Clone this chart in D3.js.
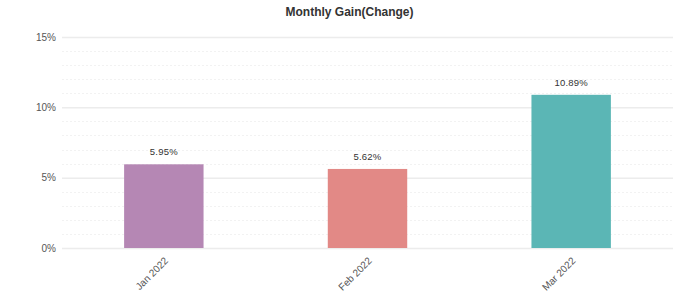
<!DOCTYPE html>
<html>
<head>
<meta charset="utf-8">
<script src="https://cdn.jsdelivr.net/npm/d3@7"></script>
<style>
  body { margin: 0; background: #fff; }
  svg text { font-family: Arial, "Liberation Sans", sans-serif; }
</style>
</head>
<body>
<script>
// chart data
var months = ["Jan 2022", "Feb 2022", "Mar 2022"];
var gains = [5.95, 5.62, 10.89];
var barColors = ["#b587b4", "#e28986", "#5bb6b5"];
var majorTicks = [0, 5, 10, 15];
var minorTicks = [1, 2, 3, 4, 6, 7, 8, 9, 11, 12, 13, 14];

var width = 699, height = 306;
var margin = { top: 37, right: 26, bottom: 58, left: 62 };
var innerW = width - margin.left - margin.right,
    innerH = height - margin.top - margin.bottom;

var svg = d3.select("body").append("svg")
    .attr("width", width)
    .attr("height", height);

svg.append("text")
    .attr("x", width / 2)
    .attr("y", 16)
    .attr("text-anchor", "middle")
    .attr("font-size", "12px")
    .attr("font-weight", "bold")
    .attr("fill", "#333")
    .text("Monthly Gain(Change)");

var g = svg.append("g")
    .attr("transform", "translate(" + margin.left + "," + margin.top + ")");

var x = d3.scaleBand()
    .domain(months)
    .range([0, innerW])
    .paddingInner(0.61)
    .paddingOuter(0.305);

var y = d3.scaleLinear()
    .domain([0, 15])
    .range([innerH, 0]);

// minor grid (dotted)
g.selectAll(".minor")
    .data(minorTicks)
    .enter().append("line")
    .attr("x1", 0).attr("x2", innerW)
    .attr("y1", function(d) { return Math.round(y(d)) + 0.5; })
    .attr("y2", function(d) { return Math.round(y(d)) + 0.5; })
    .attr("stroke", "#f2f2f2")
    .attr("stroke-dasharray", "2,2");

// y axis with major grid
var yAxis = g.append("g")
    .call(d3.axisLeft(y)
        .tickValues(majorTicks)
        .tickSize(-innerW)
        .tickPadding(6)
        .tickFormat(function(d) { return d + "%"; }));
yAxis.select(".domain").remove();
yAxis.selectAll(".tick line").attr("stroke", "#ececec").attr("stroke-width", 1.5);
yAxis.selectAll(".tick text").attr("fill", "#555").attr("font-size", "10px");

// bars
g.selectAll(".bar")
    .data(gains)
    .enter().append("rect")
    .attr("class", "bar")
    .attr("x", function(d, i) { return x(months[i]); })
    .attr("width", x.bandwidth())
    .attr("y", function(d) { return y(d); })
    .attr("height", function(d) { return innerH - y(d); })
    .attr("fill", function(d, i) { return barColors[i]; });

// value labels
g.selectAll(".val")
    .data(gains)
    .enter().append("text")
    .attr("x", function(d, i) { return x(months[i]) + x.bandwidth() / 2; })
    .attr("y", function(d) { return y(d) - 9; })
    .attr("text-anchor", "middle")
    .attr("font-size", "9.5px")
    .attr("letter-spacing", "0.2px")
    .attr("fill", "#333")
    .text(function(d) { return d.toFixed(2) + "%"; });

// x axis
var xAxis = g.append("g")
    .attr("transform", "translate(0," + innerH + ")")
    .call(d3.axisBottom(x).tickSize(0).tickPadding(8));
xAxis.select(".domain").remove();
xAxis.selectAll(".tick text")
    .attr("fill", "#555")
    .attr("font-size", "10px")
    .attr("text-anchor", "end")
    .attr("dx", "-0.6em")
    .attr("dy", "0.5em")
    .attr("transform", "rotate(-45)");
</script>
</body>
</html>
